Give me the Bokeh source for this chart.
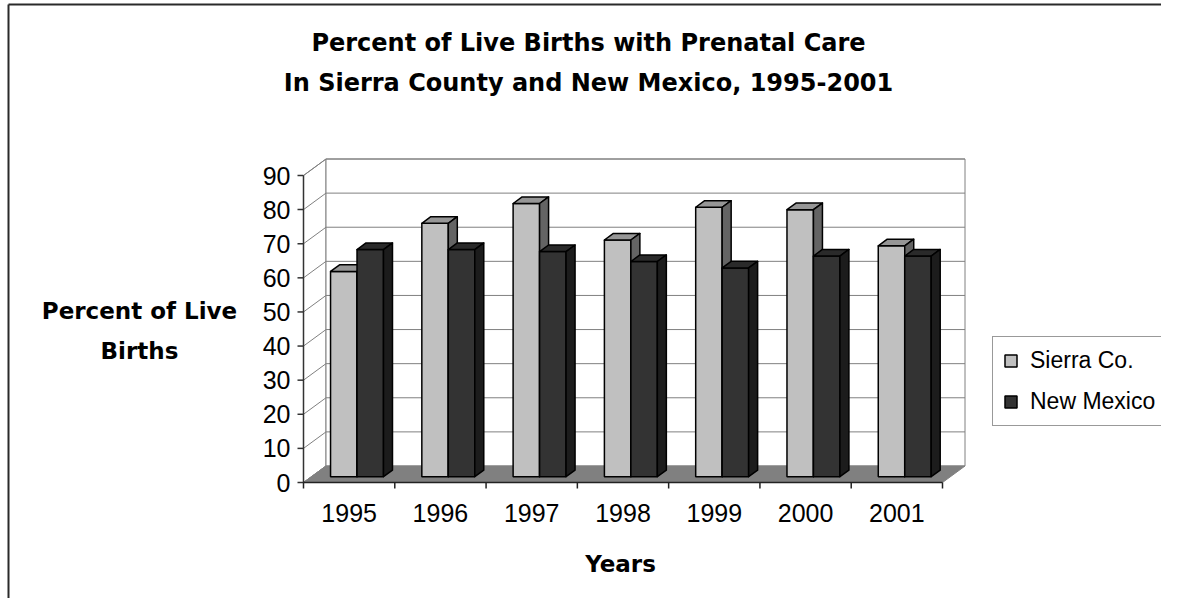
from bokeh.plotting import figure
from bokeh.models import Range1d, Legend, LegendItem
from bokeh.embed import file_html
from bokeh.resources import INLINE
from bokeh.core.properties import value

# ---------------- data ----------------
years = ["1995", "1996", "1997", "1998", "1999", "2000", "2001"]
sierra = [60.2, 74.3, 80.1, 69.4, 79.0, 78.3, 67.7]
new_mexico = [66.6, 66.6, 66.0, 63.1, 61.2, 64.7, 64.7]
y_ticks = [0, 10, 20, 30, 40, 50, 60, 70, 80, 90]
series_names = ["Sierra Co.", "New Mexico"]
title_text = "Percent of Live Births with Prenatal Care\nIn Sierra County and New Mexico, 1995-2001"
x_title = "Years"
y_title = "Percent of Live\nBirths"

# ---------------- layout ----------------
W, H = 1161, 598
OFF = 0                       # picture origin == canvas origin
X0_PX, X1_PX = 303, 942       # front plane, category axis (px)
Y0_PX, YTOP_PX = 482, 175     # front plane, value 0 and top value (px)
n = len(years)
ymax = y_ticks[-1]
ppx = (X1_PX - X0_PX) / n
ppy = (Y0_PX - YTOP_PX) / ymax


def dx(px):
    return (px - X0_PX) / ppx


def dy(py):
    return (Y0_PX - py) / ppy


DX = 22.5 / ppx   # depth offset of the back wall (data units)
DY = 16.5 / ppy
F0, F1 = 0.35, 0.75   # bar depth (fraction of full depth)
BW = 0.29             # bar width (category units)

p = figure(width=W, height=H, output_backend="svg", toolbar_location=None,
           x_axis_type=None, y_axis_type=None, title=None,
           x_range=Range1d(dx(OFF), dx(OFF + W)),
           y_range=Range1d(dy(OFF + H), dy(OFF)),
           min_border=0, min_border_left=0, min_border_right=0,
           min_border_top=0, min_border_bottom=0)
p.outline_line_color = None
p.background_fill_color = "white"
p.border_fill_color = "white"

# outer chart frame (left and top edges)
p.line([dx(8), dx(8)], [dy(OFF + H), dy(4)], line_color="#2a2a2a", line_width=2)
p.line([dx(8), dx(OFF + W)], [dy(4), dy(4)], line_color="#2a2a2a", line_width=2)

# ---------------- walls & floor ----------------
# side wall
p.patch([0, DX, DX, 0], [0, DY, ymax + DY, ymax], fill_color="white", line_color="#808080", line_width=1)
# back wall
p.quad(left=[DX], right=[n + DX], bottom=[DY], top=[ymax + DY],
       fill_color="white", line_color="#808080", line_width=1)
grid_vals = y_ticks[1:]
p.segment(x0=[DX] * len(grid_vals), y0=[v + DY for v in grid_vals],
          x1=[n + DX] * len(grid_vals), y1=[v + DY for v in grid_vals],
          line_color="#808080", line_width=1)
p.segment(x0=[0] * len(y_ticks), y0=y_ticks,
          x1=[DX] * len(y_ticks), y1=[v + DY for v in y_ticks],
          line_color="#808080", line_width=1)
# floor
p.patch([0, n, n + DX, DX], [0, 0, DY, DY], fill_color="#808080", line_color="#808080", line_width=1)

# front value axis
p.line([0, 0], [0, ymax], line_color="#333333", line_width=1.5)
tick_len_x = 6 / ppx
p.segment(x0=[-tick_len_x] * len(y_ticks), y0=y_ticks, x1=[0] * len(y_ticks), y1=y_ticks,
          line_color="#333333", line_width=1.5)
# front category axis
p.line([0, n], [0, 0], line_color="#222222", line_width=1.5)
tick_len_y = 6 / ppy
bounds = list(range(n + 1))
p.segment(x0=bounds, y0=[0] * len(bounds), x1=bounds, y1=[-tick_len_y] * len(bounds),
          line_color="#222222", line_width=1.5)

# ---------------- 3D bars ----------------
def bar_shapes(vals, offset):
    fl, fr, fb, ft = [], [], [], []
    tx, ty, sx, sy = [], [], [], []
    for i, v in enumerate(vals):
        a = i + 0.5 + offset
        b = a + BW
        fl.append(a + F0 * DX)
        fr.append(b + F0 * DX)
        fb.append(F0 * DY)
        ft.append(v + F0 * DY)
        tx.append([a + F0 * DX, b + F0 * DX, b + F1 * DX, a + F1 * DX])
        ty.append([v + F0 * DY, v + F0 * DY, v + F1 * DY, v + F1 * DY])
        sx.append([b + F0 * DX, b + F1 * DX, b + F1 * DX, b + F0 * DX])
        sy.append([F0 * DY, F1 * DY, v + F1 * DY, v + F0 * DY])
    return (fl, fr, fb, ft), (tx, ty), (sx, sy)


styles = [
    ("#c0c0c0", "#969696", "#646464"),   # Sierra Co.
    ("#333333", "#2a2a2a", "#1c1c1c"),   # New Mexico
]
front_renderers = []
for vals, off, (cf, ct, cs) in zip([sierra, new_mexico], [-BW, 0.0], styles):
    (fl, fr, fb, ft), (tx, ty), (sx, sy) = bar_shapes(vals, off)
    r = p.quad(left=fl, right=fr, bottom=fb, top=ft, fill_color=cf,
               line_color="black", line_width=1.5)
    p.patches(tx, ty, fill_color=ct, line_color="black", line_width=1.5, line_join="round")
    p.patches(sx, sy, fill_color=cs, line_color="black", line_width=1.5, line_join="round")
    front_renderers.append(r)

# ---------------- texts ----------------
REG = value("Liberation Sans")
BOLD = value("DejaVu Sans")

# y tick labels
p.text(x=[dx(290)] * len(y_ticks), y=y_ticks, text=[str(v) for v in y_ticks],
       text_font=REG, text_font_size="25px", text_align="right", text_baseline="middle",
       text_color="black")
# x tick labels
p.text(x=[i + 0.5 for i in range(n)], y=[dy(512)] * n, text=years,
       text_font=REG, text_font_size="25px", text_align="center", text_baseline="middle",
       text_color="black")
# title
p.text(x=[dx(588)], y=[dy(62.5)], text=[title_text], text_font=BOLD, text_font_style="bold",
       text_font_size="24px", text_align="center", text_baseline="middle",
       text_line_height=1.46, text_color="black")
# axis titles
p.text(x=[dx(139)], y=[dy(330.5)], text=[y_title], text_font=BOLD, text_font_style="bold",
       text_font_size="23px", text_align="center", text_baseline="middle",
       text_line_height=1.52, text_color="black")
p.text(x=[dx(620)], y=[dy(563)], text=[x_title], text_font=BOLD, text_font_style="bold",
       text_font_size="23px", text_align="center", text_baseline="middle", text_color="black")

# ---------------- legend ----------------
legend = Legend(
    items=[LegendItem(label=series_names[i], renderers=[front_renderers[i]]) for i in range(2)],
    location=(992 - OFF, OFF + H - 426),
    orientation="vertical",
    border_line_color="#333333", border_line_width=1,
    background_fill_color="white", background_fill_alpha=1.0,
    label_text_font="Liberation Sans", label_text_font_size="23px",
    label_text_color="black",
    glyph_width=15, glyph_height=15, label_standoff=12,
    padding=10, spacing=14, margin=0,
)
p.add_layout(legend)

open("out.html", "w").write(file_html(p, INLINE))
